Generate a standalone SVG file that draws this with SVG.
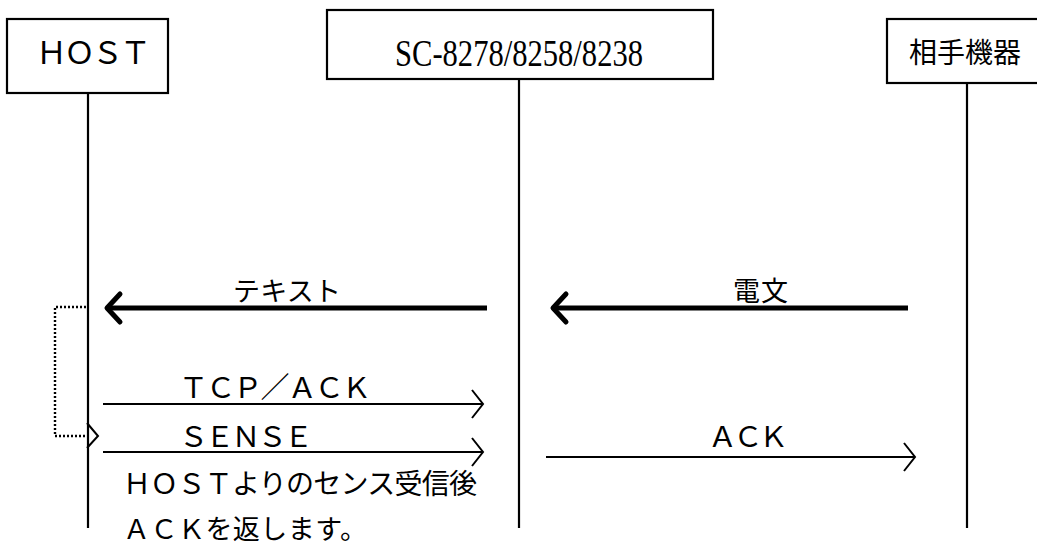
<svg xmlns="http://www.w3.org/2000/svg" width="1037" height="547" viewBox="0 0 1037 547">
<style>
.box{fill:#fff;stroke:#000;stroke-width:2.2}
.life{stroke:#000;stroke-width:2.2;fill:none}
.jp{font-family:"Noto Sans CJK JP","Noto Sans",sans-serif;fill:#000}
.serif{font-family:"Liberation Serif","DejaVu Serif",serif;fill:#000}
.thin{stroke:#000;stroke-width:2;fill:none}
.thick{stroke:#000;stroke-width:5;fill:none}
.dot{stroke:#000;stroke-width:2.4;fill:none;stroke-dasharray:2 2}
</style>
<defs>
<marker id="openThin" markerUnits="userSpaceOnUse" viewBox="-14 -17 17 34" refX="0" refY="0" markerWidth="17" markerHeight="34" orient="auto" overflow="visible">
<path d="M-11,-14 L0,0 L-11,14" fill="none" stroke="#000" stroke-width="2"/>
</marker>
<marker id="openThick" markerUnits="userSpaceOnUse" viewBox="-16 -18 20 36" refX="0" refY="0" markerWidth="20" markerHeight="36" orient="auto" overflow="visible">
<path d="M-13,-14 L0,0 L-13,14" fill="none" stroke="#000" stroke-width="5" stroke-linecap="round" stroke-linejoin="round"/>
</marker>
</defs>
<rect width="1037" height="547" fill="#fff"/>

<g id="host">
<rect class="box" x="7" y="19" width="161" height="74"/>
<text class="jp" x="36" y="64" font-size="31" textLength="115" lengthAdjust="spacing">ＨＯＳＴ</text>
<line class="life" x1="88" y1="93" x2="88" y2="528"/>
</g>

<g id="sc">
<rect class="box" x="327" y="10" width="386" height="69"/>
<text class="serif" x="395" y="66" font-size="38" textLength="248" lengthAdjust="spacingAndGlyphs">SC-8278/8258/8238</text>
<line class="life" x1="519" y1="79" x2="519" y2="528"/>
</g>

<g id="peer">
<rect class="box" x="887" y="19" width="160" height="64"/>
<text class="jp" x="909" y="63" font-size="28" textLength="112" lengthAdjust="spacing">相手機器</text>
<line class="life" x1="967" y1="83" x2="967" y2="528"/>
</g>

<g id="connectors">
<line class="thick" x1="487" y1="308" x2="107" y2="308" marker-end="url(#openThick)"/>
<line class="thick" x1="908" y1="308" x2="553" y2="308" marker-end="url(#openThick)"/>
<line class="thin" x1="103" y1="404" x2="483" y2="404" marker-end="url(#openThin)"/>
<line class="thin" x1="103" y1="452" x2="483" y2="452" marker-end="url(#openThin)"/>
<line class="thin" x1="546" y1="457" x2="915" y2="457" marker-end="url(#openThin)"/>
<polyline class="dot" points="86,307 55,307 55,436 88,436"/>
<polyline class="thin" points="87,423 98,436 87,448"/>
</g>

<g id="labels">
<text class="jp" x="233" y="301" font-size="27" textLength="108" lengthAdjust="spacing">テキスト</text>
<text class="jp" x="733" y="301" font-size="27" textLength="55" lengthAdjust="spacing">電文</text>
<text class="jp" x="179" y="398" font-size="29" textLength="192" lengthAdjust="spacing">ＴＣＰ／ＡＣＫ</text>
<text class="jp" x="179" y="447" font-size="29" textLength="134" lengthAdjust="spacing">ＳＥＮＳＥ</text>
<text class="jp" x="708" y="447" font-size="29" textLength="80" lengthAdjust="spacing">ＡＣＫ</text>
<text class="jp" x="123" y="494" font-size="28" textLength="354" lengthAdjust="spacing">ＨＯＳＴよりのセンス受信後</text>
<text class="jp" x="123" y="539" font-size="27" textLength="244" lengthAdjust="spacing">ＡＣＫを返します。</text>
</g>
</svg>
